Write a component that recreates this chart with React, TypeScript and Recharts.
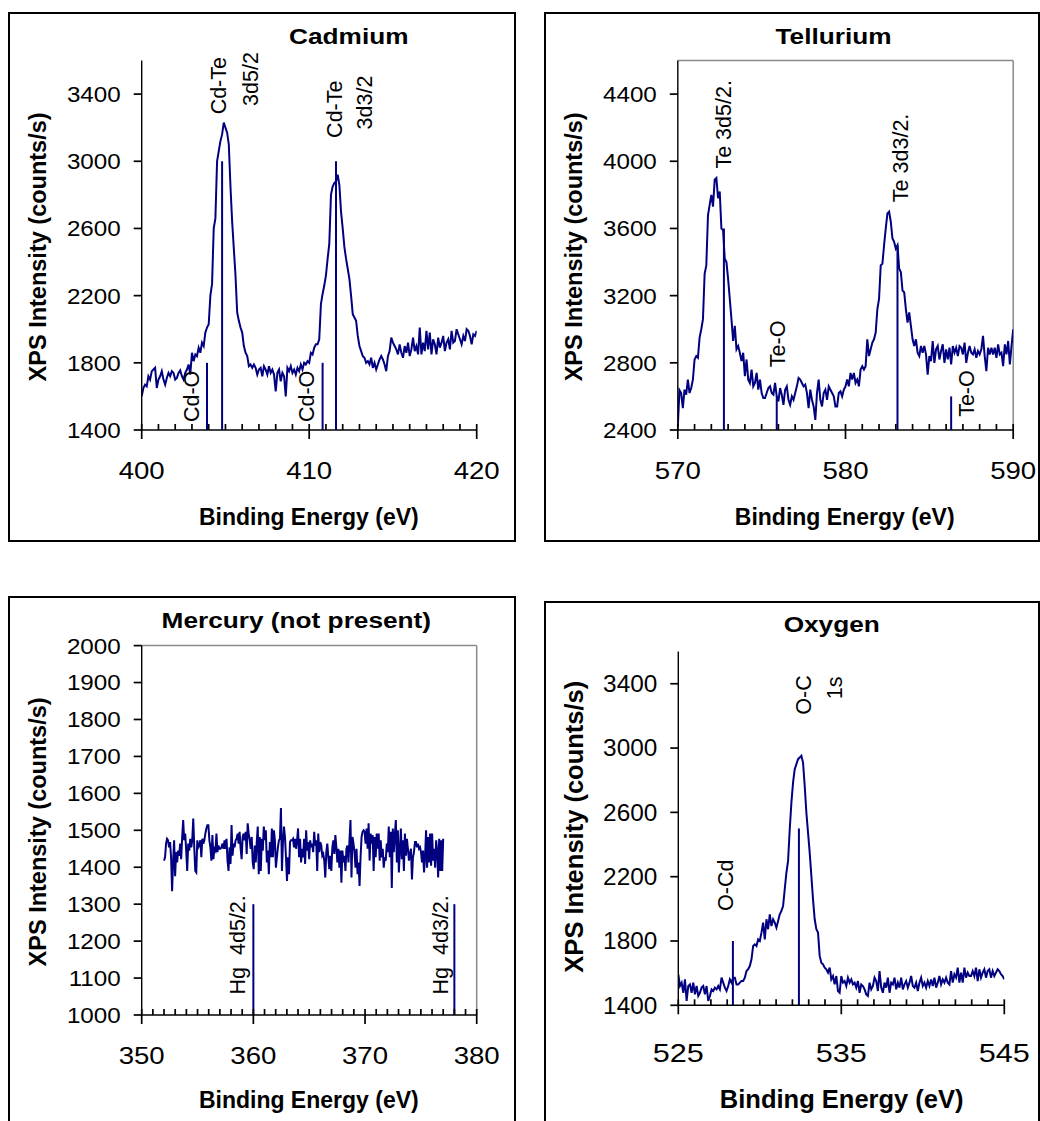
import React from 'react';
import { LineChart, Line, XAxis, YAxis, ReferenceLine, ReferenceDot } from 'recharts';

const FONT = "'Liberation Sans', Arial, Helvetica, sans-serif";
const TRACE = '#000080';
const FRAME = '#8a8a8a';
const AXIS_W = 1.4;
const TICK_W = 1.7;

// ---------- Cadmium 3d (400.0 – 420.0 eV, 0.1 eV steps) ----------
const cdSpan = [400, 420];
const cdCounts = [
  1600, 1650, 1670, 1660, 1720, 1700, 1750, 1760, 1770, 1650,
  1700, 1720, 1750, 1700, 1670, 1710, 1740, 1720, 1750, 1740,
  1700, 1710, 1740, 1755, 1720, 1700, 1740, 1760, 1790, 1730,
  1860, 1810, 1850, 1840, 1890, 1860, 1920, 1900, 1980, 2010,
  2030, 2200, 2270, 2600, 2660, 3000, 3060, 3120, 3160, 3230,
  3200, 3170, 3100, 2850, 2640, 2480, 2320, 2100, 2050, 2010,
  1980, 1900, 1860, 1840, 1780, 1790, 1770, 1790, 1770, 1730,
  1760, 1770, 1720, 1780, 1760, 1730, 1780, 1740, 1760, 1730,
  1630, 1740, 1760, 1690, 1740, 1720, 1600, 1770, 1750, 1780,
  1740, 1760, 1730, 1770, 1750, 1790, 1760, 1800, 1790, 1810,
  1800, 1860, 1850, 1890, 1910, 1910, 1940, 2150, 2210, 2260,
  2320, 2420, 2510, 2800, 2850, 2870, 2880, 2920, 2860, 2700,
  2600, 2490, 2420, 2360, 2300, 2200, 2090, 2070, 2050, 1960,
  1900, 1870, 1840, 1830, 1800, 1810, 1790, 1830, 1770, 1800,
  1760, 1790, 1820, 1840, 1820, 1790, 1750, 1840, 1870, 1950,
  1920, 1900, 1880, 1850, 1910, 1860, 1830, 1900, 1860, 1920,
  1840, 1880, 1950, 1870, 1900, 1850, 2010, 1850, 1920, 1870,
  1990, 1880, 1980, 1850, 1940, 1910, 1850, 1950, 1890, 1920,
  1960, 1870, 1920, 1940, 1880, 1990, 1920, 1930, 2000, 1970,
  1940, 1910, 1960, 1930, 2000, 1990, 1960, 1910, 1970, 1960,
  1990,
];
const cdXDomain = [400, 420];
const cdXMajor = [400, 410, 420];
const cdYDomain = [1400, 3600];
const cdYTicks = [1400, 1800, 2200, 2600, 3000, 3400];
const cdMarkers = [
  { energy: 403.9, top: 1800 },
  { energy: 404.8, top: 3000 },
  { energy: 410.8, top: 1800 },
  { energy: 411.6, top: 3000 },
];
const cdNotes = [
  { text: 'Cd-Te', energy: 404.6, level: 3450 },
  { text: '3d5/2', energy: 406.47, level: 3490 },
  { text: 'Cd-Te', energy: 411.48, level: 3310 },
  { text: '3d3/2', energy: 413.27, level: 3350 },
  { text: 'Cd-O', energy: 403.0, level: 1600 },
  { text: 'Cd-O', energy: 409.85, level: 1600 },
];

// ---------- Tellurium 3d (570.0 – 590.0 eV, 0.1 eV steps) ----------
const teSpan = [570, 590];
const teCounts = [
  2420, 2637, 2620, 2530, 2640, 2610, 2700, 2620, 2650, 2700,
  2820, 2840, 2830, 2950, 3000, 3060, 3330, 3380, 3680, 3740,
  3800, 3730, 3890, 3900, 3780, 3820, 3600, 3590, 3420, 3400,
  3300, 3180, 3060, 2930, 3020, 2880, 2900, 2860, 2810, 2860,
  2720, 2820, 2700, 2680, 2760, 2660, 2680, 2740, 2640, 2700,
  2620, 2590, 2590, 2620, 2650, 2660, 2620, 2610, 2680, 2600,
  2570, 2650, 2610, 2550, 2640, 2660, 2580, 2550, 2600, 2580,
  2620, 2660, 2710, 2700, 2680, 2660, 2670, 2620, 2530, 2640,
  2580, 2540, 2460, 2620, 2700, 2580, 2540, 2620, 2640, 2580,
  2660, 2640, 2620, 2600, 2540, 2540, 2620, 2630, 2600, 2640,
  2660, 2700, 2660, 2740, 2700, 2740, 2680, 2700, 2660, 2760,
  2780, 2760, 2780, 2940, 2840, 2880, 2920, 2940, 2980, 3120,
  3180, 3380, 3390, 3500, 3600, 3690, 3700, 3640, 3540, 3520,
  3480, 3500, 3360, 3340, 3230, 3220, 3120, 3040, 3100, 3020,
  2940, 2900, 2940, 2860, 2840, 2900, 2860, 2900, 2850, 2730,
  2840, 2810, 2930, 2800, 2880, 2900, 2820, 2870, 2910, 2800,
  2880, 2820, 2890, 2790, 2900, 2860, 2890, 2840, 2900, 2890,
  2850, 2920, 2800, 2860, 2900, 2860, 2850, 2880, 2830, 2870,
  2850, 2880, 2960, 2840, 2750, 2890, 2850, 2890, 2850, 2890,
  2830, 2910, 2850, 2860, 2780, 2910, 2850, 2930, 2790, 2900,
  3000,
];
const teXDomain = [570, 590];
const teXMajor = [570, 580, 590];
const teYDomain = [2400, 4600];
const teYTicks = [2400, 2800, 3200, 3600, 4000, 4400];
const teMarkers = [
  { energy: 572.75, top: 3600 },
  { energy: 583.1, top: 3500 },
  { energy: 575.9, top: 2600 },
  { energy: 586.3, top: 2600 },
];
const teNotes = [
  { text: 'Te 3d5/2.', energy: 572.74, level: 4220 },
  { text: 'Te 3d3/2.', energy: 583.28, level: 4020 },
  { text: 'Te-O', energy: 575.96, level: 2913 },
  { text: 'Te-O', energy: 587.19, level: 2617 },
];

// ---------- Mercury 4d (352.0 – 377.0 eV) ----------
const hgSpan = [352, 377];
const hgCounts = [
  1418, 1427, 1464, 1477, 1473, 1454, 1468, 1427, 1335, 1413,
  1473, 1376, 1441, 1413, 1445, 1431, 1464, 1422, 1482, 1528,
  1473, 1491, 1445, 1390, 1464, 1445, 1477, 1454, 1473, 1532,
  1454, 1390, 1386, 1473, 1454, 1459, 1473, 1427, 1477, 1464,
  1473, 1491, 1505, 1514, 1514, 1473, 1454, 1418, 1487, 1422,
  1450, 1445, 1491, 1441, 1459, 1450, 1450, 1454, 1464, 1450,
  1473, 1450, 1477, 1418, 1390, 1454, 1409, 1514, 1431, 1464,
  1454, 1473, 1477, 1491, 1464, 1496, 1450, 1422, 1482, 1491,
  1473, 1496, 1436, 1519, 1491, 1473, 1450, 1482, 1413, 1395,
  1459, 1413, 1468, 1510, 1381, 1482, 1390, 1477, 1445, 1510,
  1473, 1500, 1413, 1445, 1381, 1468, 1427, 1505, 1427, 1500,
  1473, 1399, 1427, 1454, 1473, 1477, 1560, 1390, 1468, 1510,
  1482, 1427, 1363, 1427, 1381, 1468, 1473, 1473, 1477, 1454,
  1477, 1450, 1473, 1505, 1427, 1477, 1413, 1450, 1427, 1477,
  1409, 1500, 1445, 1468, 1422, 1473, 1454, 1464, 1441, 1496,
  1459, 1473, 1390, 1491, 1441, 1468, 1459, 1431, 1436, 1418,
  1372, 1441, 1464, 1427, 1395, 1431, 1390, 1454, 1473, 1436,
  1487, 1454, 1413, 1450, 1399, 1445, 1358, 1445, 1413, 1431,
  1390, 1450, 1459, 1413, 1473, 1528, 1372, 1482, 1464, 1441,
  1399, 1450, 1381, 1413, 1349, 1427, 1482, 1496, 1500, 1496,
  1464, 1505, 1450, 1519, 1418, 1491, 1464, 1487, 1390, 1482,
  1427, 1491, 1450, 1491, 1418, 1473, 1427, 1450, 1399, 1427,
  1418, 1464, 1441, 1510, 1427, 1496, 1344, 1505, 1441, 1487,
  1528, 1413, 1500, 1386, 1445, 1505, 1422, 1473, 1390, 1491,
  1431, 1477, 1450, 1418, 1436, 1450, 1367, 1427, 1441, 1468,
  1468, 1454, 1464, 1450, 1454, 1441, 1413, 1445, 1386, 1427,
  1500, 1399, 1482, 1413, 1491, 1404, 1491, 1418, 1450, 1399,
  1473, 1445, 1372, 1477, 1390, 1473, 1390, 1477,
];
const hgXDomain = [350, 380];
const hgXMajor = [350, 360, 370, 380];
const hgYDomain = [1000, 2000];
const hgYTicks = [1000, 1100, 1200, 1300, 1400, 1500, 1600, 1700, 1800, 1900, 2000];
const hgMarkers = [
  { energy: 360, top: 1300 },
  { energy: 378, top: 1300 },
];
const hgNotes = [
  { text: 'Hg  4d5/2.', energy: 358.55, level: 1190 },
  { text: 'Hg  4d3/2.', energy: 376.75, level: 1190 },
];

// ---------- Oxygen 1s (525.0 – 545.0 eV) ----------
const oSpan = [525, 545];
const oCounts = [
  1593, 1520, 1541, 1478, 1561, 1427, 1520, 1530, 1478, 1541,
  1468, 1520, 1458, 1478, 1510, 1520, 1468, 1520, 1427, 1458,
  1499, 1489, 1510, 1499, 1520, 1499, 1572, 1541, 1510, 1489,
  1520, 1561, 1541, 1572, 1572, 1530, 1530, 1541, 1551, 1551,
  1572, 1613, 1624, 1644, 1686, 1769, 1779, 1769, 1810, 1800,
  1852, 1914, 1810, 1935, 1873, 1966, 1893, 1935, 1914, 1883,
  1925, 1966, 1987, 2018, 2122, 2225, 2298, 2495, 2661, 2786,
  2869, 2900, 2931, 2941, 2952, 2910, 2765, 2599, 2474, 2350,
  2205, 2059, 1935, 1873, 1852, 1707, 1665, 1655, 1634, 1624,
  1603, 1634, 1561, 1582, 1530, 1582, 1489, 1478, 1582, 1541,
  1551, 1520, 1572, 1541, 1561, 1530, 1541, 1510, 1551, 1478,
  1530, 1520, 1499, 1468, 1458, 1541, 1499, 1520, 1572, 1551,
  1489, 1613, 1510, 1478, 1541, 1510, 1572, 1478, 1541, 1530,
  1572, 1499, 1541, 1510, 1572, 1499, 1530, 1551, 1510, 1541,
  1582, 1520, 1510, 1541, 1489, 1541, 1572, 1520, 1541, 1510,
  1551, 1520, 1561, 1520, 1572, 1510, 1541, 1582, 1530, 1561,
  1541, 1572, 1541, 1530, 1613, 1541, 1593, 1572, 1634, 1541,
  1603, 1541, 1634, 1572, 1603, 1582, 1582, 1613, 1582, 1634,
  1551, 1624, 1572, 1603, 1624, 1572, 1613, 1624, 1572, 1613,
  1582, 1603, 1624, 1613, 1593, 1582, 1561,
];
const oXDomain = [525, 545];
const oXMajor = [525, 535, 545];
const oYDomain = [1400, 3600];
const oYTicks = [1400, 1800, 2200, 2600, 3000, 3400];
const oMarkers = [
  { energy: 528.35, top: 1800 },
  { energy: 532.4, top: 2500 },
];
const oNotes = [
  { text: 'O-Cd', energy: 527.91, level: 2147 },
  { text: 'O-C', energy: 532.67, level: 3330 },
  { text: '1s', energy: 534.56, level: 3374 },
];

// ---------- typography ----------
const baseType = {
  xTick: 23, xStretch: 1.2, xTickDy: 49,
  yTick: 22, yStretch: 1.1,
  title: 21.5, titleStretch: 1.22,
  yTitle: 23.5, xTitle: 23, note: 21.5,
};
const oxygenType = {
  xTick: 25.5, xStretch: 1.2, xTickDy: 57,
  yTick: 23, yStretch: 1.06,
  title: 21.5, titleStretch: 1.22,
  yTitle: 25.5, xTitle: 25.5, note: 21.5,
};

function range(a: number, b: number) {
  const out: number[] = [];
  for (let v = a; v <= b; v++) out.push(v);
  return out;
}

// Energy-axis tick: short inner mark every eV, longer outer mark and label on majors.
function XTick(props: any) {
  const { x, y, payload, majors, fs, sx, dy } = props;
  const v = payload.value;
  const major = majors.includes(v);
  return (
    <g>
      <line x1={x} x2={x} y1={y} y2={y - 6} stroke="#000" strokeWidth={TICK_W} />
      {major && <line x1={x} x2={x} y1={y} y2={y + 9} stroke="#000" strokeWidth={TICK_W} />}
      {major && (
        <text
          transform={`translate(${x},${y + dy}) scale(${sx},1)`}
          textAnchor="middle"
          fontSize={fs}
          fontFamily={FONT}
          fill="#000"
        >
          {v}
        </text>
      )}
    </g>
  );
}

function YTick(props: any) {
  const { x, y, payload, fs, sx } = props;
  return (
    <text
      transform={`translate(${x},${y + fs * 0.36}) scale(${sx},1)`}
      textAnchor="end"
      fontSize={fs}
      fontFamily={FONT}
      fill="#000"
    >
      {payload.value}
    </text>
  );
}

function PeakNote({ cx, cy, text, fs }: any) {
  return (
    <text
      transform={`translate(${cx},${cy}) rotate(-90)`}
      x={0}
      y={0}
      dy="0.35em"
      textAnchor="middle"
      fontSize={fs}
      fontFamily={FONT}
      fill="#000"
      xmlSpace="preserve"
      style={{ whiteSpace: 'pre' }}
    >
      {text}
    </text>
  );
}

function Panel({ cfg }: any) {
  const { box, plot, span, counts, xDomain, xMajor, yDomain, yTicks, markers, notes, framed, title, yTitle, xTitle, type } = cfg;
  const rows = counts.map((v: number, i: number) => ({
    e: span[0] + ((span[1] - span[0]) * i) / (counts.length - 1),
    v,
  }));
  const minor = range(xDomain[0], xDomain[1]);
  return (
    <div style={{ position: 'absolute', left: box.x, top: box.y, width: box.w, height: box.h }}>
      <LineChart
        width={box.w}
        height={box.h}
        data={rows}
        margin={{ top: plot.top, right: box.w - plot.right, bottom: 0, left: 0 }}
      >
        <XAxis
          type="number"
          dataKey="e"
          domain={xDomain}
          ticks={minor}
          interval={0}
          allowDataOverflow
          height={box.h - plot.bottom}
          stroke="#000"
          axisLine={{ stroke: '#000', strokeWidth: AXIS_W }}
          tickLine={false}
          tickSize={0}
          tickMargin={0}
          tick={(p: any) => <XTick {...p} majors={xMajor} fs={type.xTick} sx={type.xStretch} dy={type.xTickDy} />}
        />
        <YAxis
          type="number"
          domain={yDomain}
          ticks={yTicks}
          interval={0}
          allowDataOverflow
          width={plot.left}
          stroke="#000"
          axisLine={{ stroke: '#000', strokeWidth: AXIS_W }}
          tickLine={{ stroke: '#000', strokeWidth: TICK_W }}
          tickSize={8}
          tickMargin={13}
          tick={(p: any) => <YTick {...p} fs={type.yTick} sx={type.yStretch} />}
        />
        {framed && (
          <ReferenceLine
            segment={[{ x: xDomain[0], y: yDomain[1] }, { x: xDomain[1], y: yDomain[1] }]}
            stroke={FRAME}
            strokeWidth={1.5}
            ifOverflow="visible"
          />
        )}
        {framed && (
          <ReferenceLine
            segment={[{ x: xDomain[1], y: yDomain[0] }, { x: xDomain[1], y: yDomain[1] }]}
            stroke={FRAME}
            strokeWidth={1.5}
            ifOverflow="visible"
          />
        )}
        {markers.map((m: any, i: number) => (
          <ReferenceLine
            key={`m${i}`}
            segment={[{ x: m.energy, y: yDomain[0] }, { x: m.energy, y: m.top }]}
            stroke={TRACE}
            strokeWidth={2}
            ifOverflow="visible"
          />
        ))}
        <Line
          type="linear"
          dataKey="v"
          stroke={TRACE}
          strokeWidth={2}
          dot={false}
          activeDot={false}
          isAnimationActive={false}
        />
        {notes.map((n: any, i: number) => (
          <ReferenceDot
            key={`n${i}`}
            x={n.energy}
            y={n.level}
            r={1}
            ifOverflow="visible"
            shape={(p: any) => <PeakNote cx={p.cx} cy={p.cy} text={n.text} fs={type.note} />}
          />
        ))}
      </LineChart>
      <svg
        width={box.w}
        height={box.h}
        style={{ position: 'absolute', left: 0, top: 0, pointerEvents: 'none', overflow: 'visible' }}
      >
        <rect x={1} y={1} width={box.w - 2} height={box.h - 2} fill="none" stroke="#000" strokeWidth={2} />
        <text
          transform={`translate(${title.x},${title.y}) scale(${type.titleStretch},1)`}
          textAnchor="middle"
          fontSize={type.title}
          fontWeight="bold"
          fontFamily={FONT}
          fill="#000"
        >
          {title.text}
        </text>
        <text
          transform={`translate(${yTitle.x},${yTitle.y}) rotate(-90)`}
          textAnchor="middle"
          fontSize={type.yTitle}
          fontWeight="bold"
          fontFamily={FONT}
          fill="#000"
        >
          XPS Intensity (counts/s)
        </text>
        <text
          x={xTitle.x}
          y={xTitle.y}
          textAnchor="middle"
          fontSize={type.xTitle}
          fontWeight="bold"
          fontFamily={FONT}
          fill="#000"
        >
          Binding Energy (eV)
        </text>
      </svg>
    </div>
  );
}

const panels = [
  {
    key: 'cd',
    box: { x: 8, y: 12, w: 508, h: 530 },
    plot: { left: 133.7, top: 48.5, right: 468.7, bottom: 418 },
    span: cdSpan, counts: cdCounts, xDomain: cdXDomain, xMajor: cdXMajor,
    yDomain: cdYDomain, yTicks: cdYTicks, markers: cdMarkers, notes: cdNotes,
    framed: false,
    title: { text: 'Cadmium', x: 340.8, y: 32.3 },
    yTitle: { x: 37.5, y: 234.9 },
    xTitle: { x: 300.8, y: 512.9 },
    type: baseType,
  },
  {
    key: 'te',
    box: { x: 543.5, y: 12, w: 496, h: 530 },
    plot: { left: 133.8, top: 48.5, right: 469.2, bottom: 418 },
    span: teSpan, counts: teCounts, xDomain: teXDomain, xMajor: teXMajor,
    yDomain: teYDomain, yTicks: teYTicks, markers: teMarkers, notes: teNotes,
    framed: true,
    title: { text: 'Tellurium', x: 289.5, y: 32 },
    yTitle: { x: 38, y: 234.8 },
    xTitle: { x: 300.7, y: 512.9 },
    type: baseType,
  },
  {
    key: 'hg',
    box: { x: 8, y: 596, w: 508, h: 600 },
    plot: { left: 133.7, top: 49.6, right: 468.7, bottom: 419 },
    span: hgSpan, counts: hgCounts, xDomain: hgXDomain, xMajor: hgXMajor,
    yDomain: hgYDomain, yTicks: hgYTicks, markers: hgMarkers, notes: hgNotes,
    framed: true,
    title: { text: 'Mercury (not present)', x: 288.3, y: 32.3 },
    yTitle: { x: 37.5, y: 235.9 },
    xTitle: { x: 300.8, y: 512.3 },
    type: baseType,
  },
  {
    key: 'o',
    box: { x: 544, y: 601, w: 496, h: 600 },
    plot: { left: 134.3, top: 50.6, right: 460.3, bottom: 404.3 },
    span: oSpan, counts: oCounts, xDomain: oXDomain, xMajor: oXMajor,
    yDomain: oYDomain, yTicks: oYTicks, markers: oMarkers, notes: oNotes,
    framed: false,
    title: { text: 'Oxygen', x: 287.7, y: 31.4 },
    yTitle: { x: 39, y: 225.7 },
    xTitle: { x: 297.7, y: 507 },
    type: oxygenType,
  },
];

export default function App() {
  return (
    <div
      style={{
        position: 'absolute',
        left: 0,
        top: 0,
        width: 1040,
        height: 1121,
        overflow: 'hidden',
        background: '#fff',
        fontFamily: FONT,
      }}
    >
      {panels.map((p) => (
        <Panel key={p.key} cfg={p} />
      ))}
    </div>
  );
}
